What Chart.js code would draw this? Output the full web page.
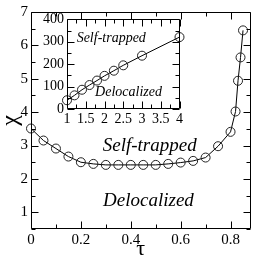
<!DOCTYPE html>
<html>
<head>
<meta charset="utf-8">
<script src="https://cdn.jsdelivr.net/npm/chart.js@4/dist/chart.umd.min.js"></script>
<style>
html,body{margin:0;padding:0;background:#fff;}
#wrap{position:relative;width:256px;height:260px;overflow:hidden;}
#main{position:absolute;left:0;top:0;}
#inset{position:absolute;left:28px;top:8px;}
</style>
</head>
<body>
<div id="wrap">
<canvas id="main" width="256" height="260"></canvas>
<canvas id="inset" width="157" height="125"></canvas>
</div>
<script>
// ---- Main chart data ----
const tau = [0, 0.05, 0.1, 0.15, 0.2, 0.25, 0.3, 0.35, 0.4, 0.45, 0.5, 0.55, 0.6, 0.65, 0.7, 0.75, 0.8, 0.82, 0.83, 0.84, 0.85];
const chi = [3.51, 3.15, 2.91, 2.67, 2.50, 2.45, 2.42, 2.42, 2.42, 2.42, 2.42, 2.45, 2.49, 2.54, 2.64, 2.98, 3.41, 4.02, 4.94, 5.64, 6.45];
const mainXTicks = [0, 0.2, 0.4, 0.6, 0.8];
const mainXMinor = [0.1, 0.3, 0.5, 0.7];
const mainYTicks = [1, 2, 3, 4, 5, 6, 7];
const mainYMinor = [0.5, 1.5, 2.5, 3.5, 4.5, 5.5, 6.5];

// ---- Inset data ----
const insetX = [1, 1.2, 1.4, 1.6, 1.8, 2, 2.25, 2.5, 3, 4];
const insetY = [39, 61, 86, 107, 127, 148, 171, 195, 238, 321];
const insetXTicks = [1, 1.5, 2, 2.5, 3, 3.5, 4];
const insetXMinor = [1.25, 1.75, 2.25, 2.75, 3.25, 3.75];
const insetYTicks = [0, 100, 200, 300, 400];
const insetYMinor = [50, 150, 250, 350];

const labels = {
  main: [
    {text: 'Self-trapped', x: 0.476, y: 2.99},
    {text: 'Delocalized', x: 0.471, y: 1.34}
  ],
  inset: [
    {text: 'Self-trapped', x: 2.18, y: 315},
    {text: 'Delocalized', x: 2.64, y: 75}
  ]
};

const SERIF = '"Liberation Serif"';
Chart.defaults.font.family = SERIF;
Chart.defaults.color = '#000';

const framePlugin = {
  id: 'frameTicks',
  afterDraw(chart, args, opts) {
    const ctx = chart.ctx;
    const a = chart.chartArea;
    const xs = chart.scales.x, ys = chart.scales.y;
    const L = Math.round(a.left) + 0.5, R = Math.round(a.right) - 0.5;
    const T = Math.round(a.top) + 0.5, B = Math.round(a.bottom) - 0.5;
    ctx.save();
    ctx.strokeStyle = '#000';
    ctx.lineWidth = 1;
    ctx.beginPath();
    ctx.rect(L, T, R - L, B - T);
    const xt = (vals, len) => vals.forEach(v => {
      const p = Math.round(xs.getPixelForValue(v)) + 0.5;
      ctx.moveTo(p, B); ctx.lineTo(p, B - len);
      ctx.moveTo(p, T); ctx.lineTo(p, T + len);
    });
    const yt = (vals, len) => vals.forEach(v => {
      const p = Math.round(ys.getPixelForValue(v)) + 0.5;
      ctx.moveTo(L, p); ctx.lineTo(L + len, p);
      ctx.moveTo(R, p); ctx.lineTo(R - len, p);
    });
    xt(opts.xMajor, opts.major); xt(opts.xMinor, opts.minor);
    yt(opts.yMajor, opts.major); yt(opts.yMinor, opts.minor);
    ctx.stroke();
    ctx.fillStyle = '#000';
    ctx.font = 'italic ' + opts.textSize + 'px ' + SERIF;
    ctx.textAlign = 'center';
    ctx.textBaseline = 'middle';
    (opts.texts || []).forEach(t => {
      ctx.fillText(t.text, xs.getPixelForValue(t.x), ys.getPixelForValue(t.y));
    });
    ctx.restore();
  }
};

function fmt(v) { return String(v); }

function lineDataset(xv, yv) {
  return {
    data: xv.map((t, i) => ({x: t, y: yv[i]})),
    borderColor: '#000',
    borderWidth: 1,
    pointRadius: 4.5,
    pointBorderWidth: 1,
    pointBorderColor: '#222',
    pointBackgroundColor: 'rgba(0,0,0,0)',
    tension: 0,
    fill: false,
    clip: false
  };
}

new Chart(document.getElementById('main'), {
  type: 'line',
  data: {datasets: [lineDataset(tau, chi)]},
  options: {
    responsive: false,
    animation: false,
    devicePixelRatio: 1,
    events: [],
    layout: {padding: {left: 0, right: 2, top: 6, bottom: 0}},
    plugins: {
      legend: {display: false},
      tooltip: {enabled: false},
      frameTicks: {xMajor: mainXTicks, xMinor: mainXMinor, yMajor: mainYTicks, yMinor: mainYMinor,
                   major: 7, minor: 4, texts: labels.main, textSize: 19}
    },
    scales: {
      x: {
        type: 'linear', min: 0, max: 0.88,
        afterFit(s) { s.height = 31; },
        afterBuildTicks(s) { s.ticks = mainXTicks.map(v => ({value: v})); },
        grid: {display: false, drawTicks: false},
        border: {display: false},
        ticks: {callback: fmt, color: '#000', font: {family: SERIF, size: 15}, padding: 2, maxRotation: 0, autoSkip: false},
        title: {display: true, text: 'τ', color: '#000', font: {family: SERIF, size: 22, lineHeight: 1}, padding: {top: 0, bottom: 0}}
      },
      y: {
        type: 'linear', min: 0.5, max: 7,
        afterFit(s) { s.width = 31; },
        afterBuildTicks(s) { s.ticks = mainYTicks.map(v => ({value: v})); },
        grid: {display: false, drawTicks: false},
        border: {display: false},
        ticks: {callback: fmt, color: '#000', font: {family: SERIF, size: 15}, padding: 3, autoSkip: false},
        title: {display: true, text: 'χ', color: '#000', font: {family: SERIF, size: 24, lineHeight: 0.9}, padding: {top: 0, bottom: 0}}
      }
    }
  },
  plugins: [framePlugin]
});

new Chart(document.getElementById('inset'), {
  type: 'line',
  data: {datasets: [lineDataset(insetX, insetY)]},
  options: {
    responsive: false,
    animation: false,
    devicePixelRatio: 1,
    events: [],
    layout: {padding: {left: 0, right: 5, top: 7, bottom: 0}},
    plugins: {
      legend: {display: false},
      tooltip: {enabled: false},
      frameTicks: {xMajor: insetXTicks, xMinor: insetXMinor, yMajor: insetYTicks, yMinor: insetYMinor,
                   major: 7, minor: 4, texts: labels.inset, textSize: 14}
    },
    scales: {
      x: {
        type: 'linear', min: 1, max: 4,
        afterFit(s) { s.height = 24; },
        afterBuildTicks(s) { s.ticks = insetXTicks.map(v => ({value: v})); },
        grid: {display: false, drawTicks: false},
        border: {display: false},
        ticks: {callback: fmt, color: '#000', font: {family: SERIF, size: 14}, padding: 2, maxRotation: 0, autoSkip: false}
      },
      y: {
        type: 'linear', min: 0, max: 400,
        afterFit(s) { s.width = 39; },
        afterBuildTicks(s) { s.ticks = insetYTicks.map(v => ({value: v})); },
        grid: {display: false, drawTicks: false},
        border: {display: false},
        ticks: {callback: fmt, color: '#000', font: {family: SERIF, size: 14}, padding: 3, autoSkip: false}
      }
    }
  },
  plugins: [framePlugin]
});
</script>
</body>
</html>
